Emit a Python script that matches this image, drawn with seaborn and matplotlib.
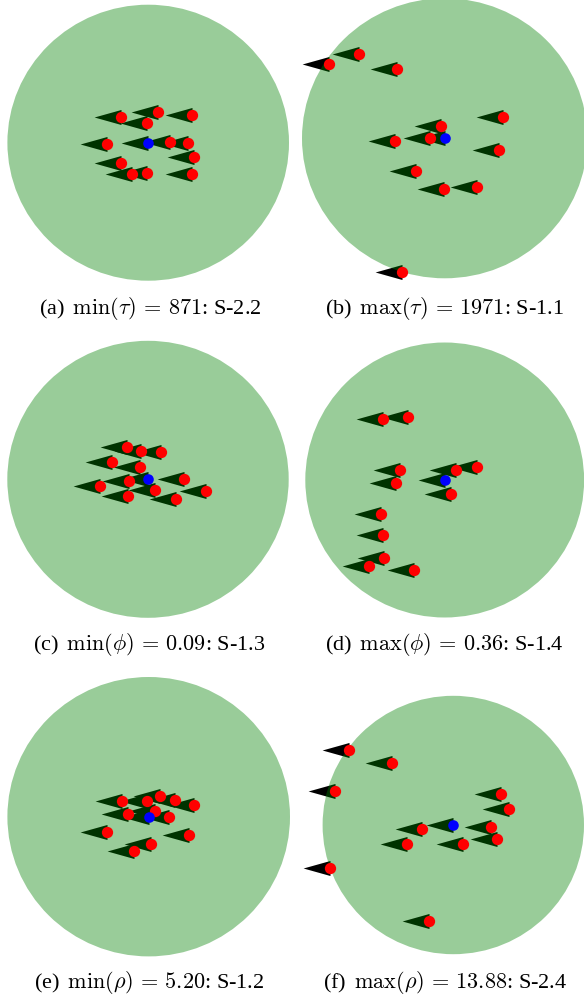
import numpy as np
import matplotlib as mpl
mpl.use("Agg")
from matplotlib import pyplot as plt
from matplotlib.path import Path
import seaborn as sns
import pandas as pd

sns.set_style("white")
plt.rcParams['font.family'] = ['Liberation Serif', 'DejaVu Serif']
plt.rcParams['mathtext.fontset'] = 'cm'

# neighbour positions relative to the ego vehicle (m), view radius 50 m
radius = 50.0

a_x = [-9.7, 3.4, -0.5, 15.5, -14.7, 7.8, 14.1, 16.1, -9.7, -5.6, -0.5, 15.5]
a_y = [9.3, 11.2, 7.3, 10.0, -0.5, 0.1, -0.1, -5.1, -7.2, -11.2, -10.9, -11.4]

b_x = [-30.1, -40.6, -16.7, 20.4, -1.2, -5.0, -17.3, 19.1, -10.0, -0.4, 11.3, -15.0]
b_y = [30.1, 26.4, 24.6, 7.5, 4.4, 0.0, -1.0, -4.2, -11.7, -18.1, -17.3, -47.6]

c_x = [-7.5, -2.6, 4.6, -12.7, -2.8, 12.7, -6.6, -17.1, 2.5, 20.5, -7.0, 10.1]
c_y = [11.8, 10.3, 10.0, 6.1, 4.5, 0.0, -0.6, -2.3, -3.9, -4.2, -6.0, -7.1]

d_x = [-22.1, -13.3, -16.1, 4.2, 11.6, -17.5, 2.2, -22.7, -22.1, -21.8, -27.0, -10.9]
d_y = [22.1, 23.0, 3.6, 3.6, 4.8, -1.0, -5.1, -12.5, -20.0, -28.3, -31.3, -32.8]

e_x = [-9.3, -0.7, 4.1, 9.4, 16.1, -7.3, 2.3, 7.3, -14.9, 14.4, 0.7, -5.3]
e_y = [5.6, 5.6, 7.4, 5.9, 4.1, 0.9, 2.0, 0.0, -5.4, -6.4, -9.8, -12.3]

f_x = [-39.8, -23.5, -45.1, 18.3, 21.2, -12.1, 14.5, -17.8, 3.6, 16.6, -47.1, -9.4]
f_y = [29.0, 23.9, 13.2, 11.9, 6.2, -1.7, -0.9, -7.4, -7.4, -5.5, -16.8, -37.2]

captions = [
    r'(a) $\,\min(\tau)\,=\,871$: S-2.2',
    r'(b) $\,\max(\tau)\,=\,1971$: S-1.1',
    r'(c) $\,\min(\phi)\,=\,0.09$: S-1.3',
    r'(d) $\,\max(\phi)\,=\,0.36$: S-1.4',
    r'(e) $\,\min(\rho)\,=\,5.20$: S-1.2',
    r'(f) $\,\max(\rho)\,=\,13.88$: S-2.4',
]

W, H = 584, 1001
# panel box (px, top-left origin), circle centre and radii in px
panels = [
    (a_x, a_y, (0, 0, 292, 300), (148.2, 142.7, 140.8, 138.0), (150, 309)),
    (b_x, b_y, (292, 0, 292, 300), (444.7, 138.3, 142.7, 140.0), (444.5, 309)),
    (c_x, c_y, (0, 325, 292, 300), (148.0, 479.3, 140.7, 138.5), (149, 645)),
    (d_x, d_y, (292, 325, 292, 300), (444.7, 480.0, 139.4, 137.5), (444.5, 645)),
    (e_x, e_y, (0, 662, 292, 300), (148.7, 816.7, 141.3, 139.7), (149, 983)),
    (f_x, f_y, (292, 662, 292, 300), (453.3, 825.0, 130.7, 129.2), (445, 983)),
]

arrow = Path([(0, 0.28), (-1, 0), (0, -0.28), (0, 0.28)],
             [Path.MOVETO, Path.LINETO, Path.LINETO, Path.CLOSEPOLY])

fig = plt.figure(figsize=(W / 100, H / 100), dpi=100)

for (xs, ys, box, circ, cap), text in zip(panels, captions):
    x0, y0, w, h = box
    cx, cy, rx, ry = circ
    ax = fig.add_axes([x0 / W, 1 - (y0 + h) / H, w / W, h / H])
    ax.set_xlim((x0 - cx) / rx * radius, (x0 + w - cx) / rx * radius)
    ax.set_ylim((cy - (y0 + h)) / ry * radius, (cy - y0) / ry * radius)

    agents = pd.DataFrame({'x': xs + [0.0], 'y': ys + [0.0]})
    others = agents.iloc[:-1]
    ego = agents.iloc[-1:]

    sns.scatterplot(data=agents, x='x', y='y', ax=ax, marker=arrow, s=1500,
                    color='black', linewidth=0, zorder=1, clip_on=False)
    ax.add_patch(plt.Circle((0, 0), radius, color='green', alpha=0.4, lw=0, zorder=2))
    sns.scatterplot(data=others, x='x', y='y', ax=ax, marker='o', s=66,
                    color='red', linewidth=0, zorder=3, clip_on=False)
    sns.scatterplot(data=ego, x='x', y='y', ax=ax, marker='o', s=58,
                    color='blue', linewidth=0, zorder=4, clip_on=False)
    ax.set_axis_off()

    fig.text(cap[0] / W, 1 - cap[1] / H, text, ha='center', va='center',
             fontsize=16, color='black')

fig.savefig('out.png', dpi=100)
